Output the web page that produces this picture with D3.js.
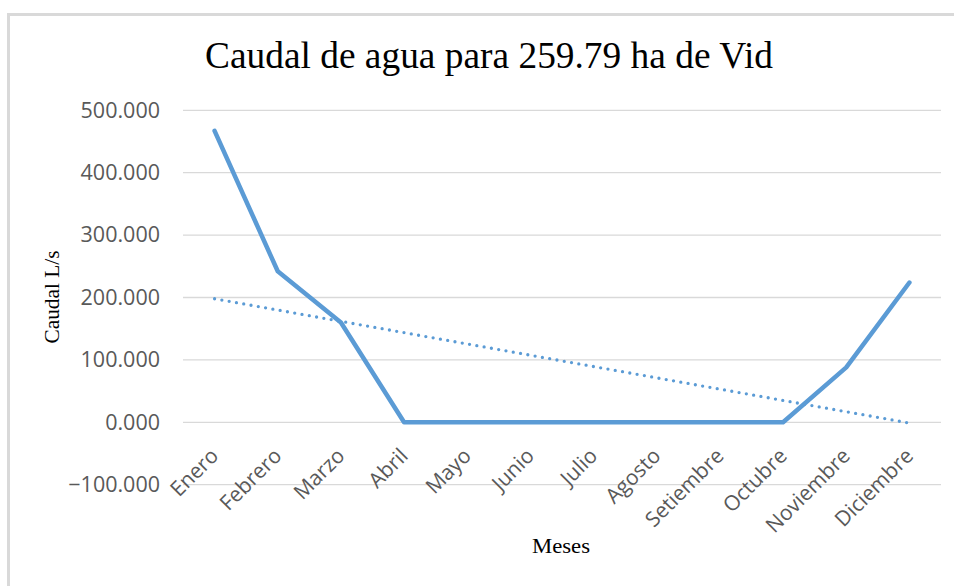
<!DOCTYPE html>
<html><head><meta charset="utf-8">
<script src="https://cdn.jsdelivr.net/npm/d3@7"></script>
<style>body{margin:0;background:#fff}svg{display:block}</style>
</head><body>
<svg id="c" width="954" height="586"></svg>
<script>
const months = ["Enero","Febrero","Marzo","Abril","Mayo","Junio","Julio","Agosto","Setiembre","Octubre","Noviembre","Diciembre"];
const caudal = [467, 242, 160, 0, 0, 0, 0, 0, 0, 0, 88, 224];
const yTicks = [-100, 0, 100, 200, 300, 400, 500];
const title = "Caudal de agua para 259.79 ha de Vid";
const yTitle = "Caudal L/s";
const xTitle = "Meses";

const svg = d3.select("#c");
// outer frame (partially cropped)
svg.append("path").attr("d","M8.5,590 V14.5 H960").attr("fill","none").attr("stroke","#d9d9d9").attr("stroke-width",3);

const x = d3.scaleBand().domain(months).range([183, 941]);
const y = d3.scaleLinear().domain([-100, 500]).range([484.7, 110.3]);
const cx = m => x(m) + x.bandwidth()/2;

// gridlines
svg.append("g").selectAll("line").data(yTicks).join("line")
  .attr("x1",183).attr("x2",941).attr("y1",d=>y(d)).attr("y2",d=>y(d))
  .attr("stroke","#d9d9d9").attr("stroke-width",1.3);

// y axis
const yAxis = d3.axisLeft(y).tickValues(yTicks).tickSize(0).tickPadding(0).tickFormat(d3.format(".3f"));
const gy = svg.append("g").attr("transform","translate(160,0)").call(yAxis);
gy.select(".domain").remove();
gy.selectAll("text").attr("fill","#595959").attr("font-family","'Open Sans'").attr("font-size",21.5);

// x axis labels
const xAxis = d3.axisBottom(x).tickSize(0).tickPadding(0);
const gx = svg.append("g").attr("transform","translate(0,432)").call(xAxis);
gx.select(".domain").remove();
gx.selectAll("text").attr("fill","#595959").attr("font-family","'Open Sans'").attr("font-size",21)
  .attr("text-anchor","end").attr("dy","0.75em")
  .attr("transform","translate(-6,14) rotate(-45)");

// trendline (linear regression of the series)
const n = caudal.length;
const xs = d3.range(1, n+1);
const mx = d3.mean(xs), my = d3.mean(caudal);
const slope = d3.sum(xs.map((v,i)=>(v-mx)*(caudal[i]-my))) / d3.sum(xs.map(v=>(v-mx)*(v-mx)));
const icpt = my - slope*mx;
svg.append("line")
  .attr("x1",cx(months[0])).attr("y1",y(icpt+slope*1))
  .attr("x2",cx(months[n-1])).attr("y2",y(icpt+slope*n))
  .attr("stroke","#5b9bd5").attr("stroke-width",3.3).attr("stroke-linecap","round")
  .attr("stroke-dasharray","0,7.4");

// series line
const line = d3.line().x((d,i)=>cx(months[i])).y(d=>y(d));
svg.append("path").datum(caudal).attr("d",line).attr("fill","none")
  .attr("stroke","#5b9bd5").attr("stroke-width",4.5).attr("stroke-linejoin","round").attr("stroke-linecap","round");

// titles
svg.append("text").attr("x",489).attr("y",68).attr("text-anchor","middle")
  .attr("font-family","'Liberation Serif','Times New Roman',serif").attr("font-size",38)
  .attr("textLength",568).attr("lengthAdjust","spacingAndGlyphs").attr("fill","#000").text(title);
svg.append("text").attr("transform","translate(59,297) rotate(-90)").attr("text-anchor","middle")
  .attr("font-family","'Liberation Serif',serif").attr("font-size",21)
  .attr("textLength",93).attr("lengthAdjust","spacingAndGlyphs").attr("fill","#000").text(yTitle);
svg.append("text").attr("x",561).attr("y",553).attr("text-anchor","middle")
  .attr("font-family","'Liberation Serif',serif").attr("font-size",21)
  .attr("textLength",58).attr("lengthAdjust","spacingAndGlyphs").attr("fill","#000").text(xTitle);
</script>
</body></html>
